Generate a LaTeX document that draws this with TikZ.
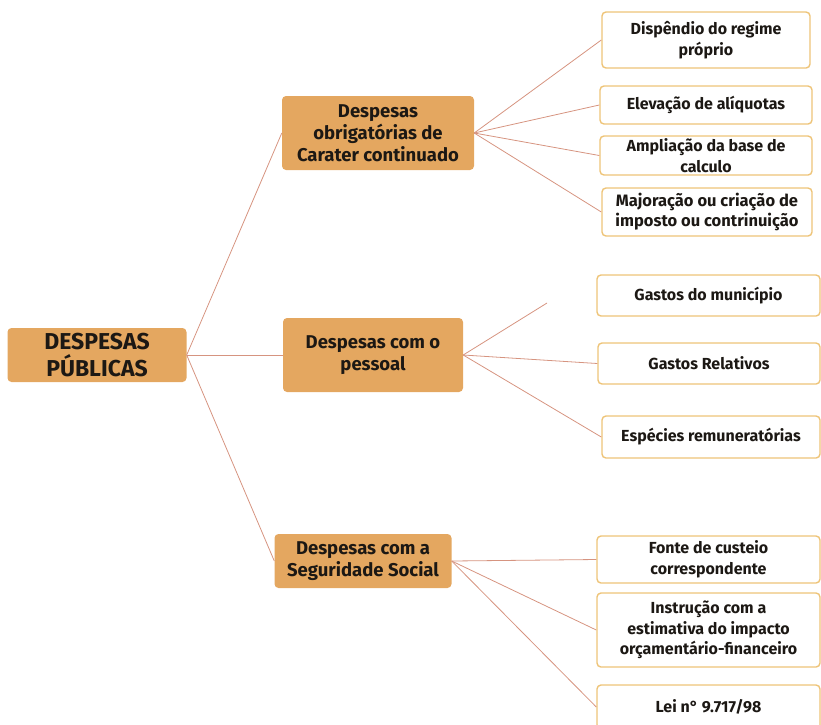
\documentclass[tikz,border=0pt]{standalone}
\usepackage{fontspec}
\setmainfont{Fira Sans}
\definecolor{boxfill}{RGB}{228,167,96}
\definecolor{leafedge}{RGB}{238,196,120}
\definecolor{linkcol}{RGB}{214,148,128}
\definecolor{txtcol}{RGB}{28,24,20}

\begin{document}
\begin{tikzpicture}[x=1pt, y=-1pt,
    topic/.style={fill=boxfill, rounded corners=4pt, align=center, inner sep=0pt, text=txtcol, font=\bfseries\fontsize{18.5}{22}\selectfont},
    leaf/.style={draw=leafedge, line width=1.4pt, fill=white, rounded corners=4pt, align=center, inner sep=0pt, text=txtcol, font=\bfseries\fontsize{16}{20.5}\selectfont},
    link/.style={draw=linkcol, line width=.8pt}]
    \useasboundingbox (0,0) rectangle (821,724);
    % main node
    \node[topic, minimum width=179pt, minimum height=54pt, font=\bfseries\fontsize{23}{27}\selectfont] (root) at (97,355) {DESPESAS\\PÚBLICAS};
    \node[topic, minimum width=192pt, minimum height=74pt] (obrig) at (378,133) {Despesas\\obrigatórias de\\Carater continuado};
    \node[topic, minimum width=180pt, minimum height=74pt] (pessoal) at (373,355) {Despesas com o\\pessoal};
    \node[topic, minimum width=177pt, minimum height=54pt] (seg) at (363,561) {Despesas com a\\Seguridade Social};
    % leaves
    \node[leaf, minimum width=208pt, minimum height=56pt] (disp) at (706,40) {Dispêndio do regime\\próprio};
    \node[leaf, minimum width=212pt, minimum height=38pt] (elev) at (706,105) {Elevação de alíquotas};
    \node[leaf, minimum width=212pt, minimum height=39pt] (ampl) at (706,155.5) {Ampliação da base de\\calculo};
    \node[leaf, minimum width=210pt, minimum height=48pt, font=\bfseries\fontsize{16.5}{20}\selectfont] (major) at (707,212) {Majoração ou criação de\\imposto ou contrinuição};
    \node[leaf, minimum width=223pt, minimum height=41pt] (munic) at (708.5,295.5) {Gastos do município};
    \node[leaf, minimum width=222pt, minimum height=41pt] (relat) at (709,363.5) {Gastos Relativos};
    \node[leaf, minimum width=218pt, minimum height=42pt] (espec) at (711,437) {Espécies remuneratórias};
    \node[leaf, minimum width=223pt, minimum height=47pt] (fonte) at (708.5,559.5) {Fonte de custeio\\correspondente};
    \node[leaf, minimum width=223pt, minimum height=74pt] (instr) at (708.5,630) {Instrução com a\\estimativa do impacto\\orçamentário-financeiro};
    \node[leaf, minimum width=223pt, minimum height=44pt] (lei) at (708.5,707) {Lei n° 9.717/98};
    \coordinate (pend) at (547,303);
    % links
    \foreach \t in {obrig, pessoal, seg} \draw[link] (root.east) -- (\t.west);
    \foreach \t in {disp, elev, ampl, major} \draw[link] (obrig.east) -- (\t.west);
    \foreach \t in {pend, relat.west, espec.west} \draw[link] (pessoal.east) -- (\t);
    \foreach \t in {fonte, instr, lei} \draw[link] (seg.east) -- (\t.west);
\end{tikzpicture}
\end{document}
